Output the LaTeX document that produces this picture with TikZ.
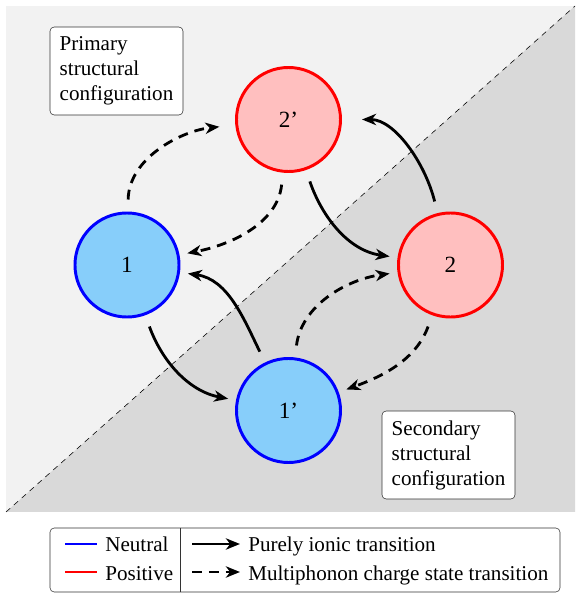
\documentclass[tikz,border=0pt]{standalone}
\usepackage{fontspec}
\setmainfont{Liberation Serif}
\usepackage{tikz}
\usetikzlibrary{arrows.meta,positioning}
\definecolor{neutralfill}{RGB}{135,206,250}
\definecolor{positivefill}{RGB}{255,191,191}
\definecolor{lightbg}{RGB}{242,242,242}
\definecolor{darkbg}{RGB}{217,217,217}
\tikzset{
    every node/.style={font=\fontsize{15}{17.8}\selectfont},
    state node/.style={circle,line width=2.1pt,minimum size=2.6cm,inner sep=0pt,font=\fontsize{16.5}{19}\selectfont},
    neutral node/.style={state node,draw=blue,fill=neutralfill},
    positive node/.style={state node,draw=red,fill=positivefill},
    ionic/.style={line width=2pt,-{Stealth[length=10pt,width=8pt,inset=3pt]},shorten <=0.3cm,shorten >=0.2cm},
    multiphonon/.style={ionic,dash pattern=on 7pt off 5pt},
    config box/.style={draw=black!80,thin,rounded corners=3pt,fill=white,align=left,minimum width=3.325cm,minimum height=2.2cm,inner sep=0pt},
    legend text/.style={anchor=base west,inner sep=0pt}
}
\begin{document}
\begin{tikzpicture}[x=0.025cm,y=0.025cm]

    \useasboundingbox (0,0) rectangle (575,594);

    \fill[lightbg] (6,82) rectangle (575,588);
    \fill[darkbg] (6,82) -- (575,82) -- (575,588) -- cycle;
    \draw[thin,dash pattern=on 4pt off 3.5pt] (6,82) -- (575,588);

    \node[config box] (primary) at (116.5,523) {Primary\\structural\\configuration};
    \node[config box] (secondary) at (448.5,139) {Secondary\\structural\\configuration};

    \node[neutral node] (n1) at (127,329) {1};
    \node[positive node] (n2p) at (288.5,474.5) {2’};
    \node[positive node] (n2) at (450.5,329) {2};
    \node[neutral node] (n1p) at (288.5,183.5) {1’};

    \draw[ionic] (n1) to[out=-70,in=169] (n1p);
    \draw[ionic] (n1p) to[out=116,in=-8] (n1);
    \draw[ionic] (n2p) to[out=-71,in=172] (n2);
    \draw[ionic,shorten >=0.5cm] (n2) to[out=104,in=0] (n2p);

    \draw[multiphonon,shorten >=0.4cm] (n1) to[out=89,in=186] (n2p);
    \draw[multiphonon] (n2p) to[out=-96,in=11] (n1);
    \draw[multiphonon] (n1p) to[out=83,in=-172] (n2);
    \draw[multiphonon] (n2) to[out=-110,in=20] (n1p);

    \draw[black!80,thin,rounded corners=3pt] (50,2) rectangle (560,66);
    \draw[black!80,thin] (180,2) -- (180,66);

    \coordinate (bl1) at (65,50);  \coordinate (bl2) at (97,50);
    \coordinate (rl1) at (65,22);  \coordinate (rl2) at (97,22);
    \coordinate (il1) at (192,50); \coordinate (il2) at (240,50);
    \coordinate (ml1) at (192,22); \coordinate (ml2) at (240,22);

    \draw[blue,line width=2pt] (bl1) -- (bl2);
    \draw[red,line width=2pt] (rl1) -- (rl2);
    \draw[ionic,shorten <=0pt,shorten >=0pt] (il1) -- (il2);
    \draw[multiphonon,shorten <=0pt,shorten >=0pt] (ml1) -- (ml2);

    \node[legend text] (neutral) at (105,42.3) {Neutral};
    \node[legend text] (positive) at (105,13.3) {Positive};
    \node[legend text] (ionictext) at (248,42.3) {Purely ionic transition};
    \node[legend text] (multitext) at (248,13.3) {Multiphonon charge state transition};

\end{tikzpicture}
\end{document}
